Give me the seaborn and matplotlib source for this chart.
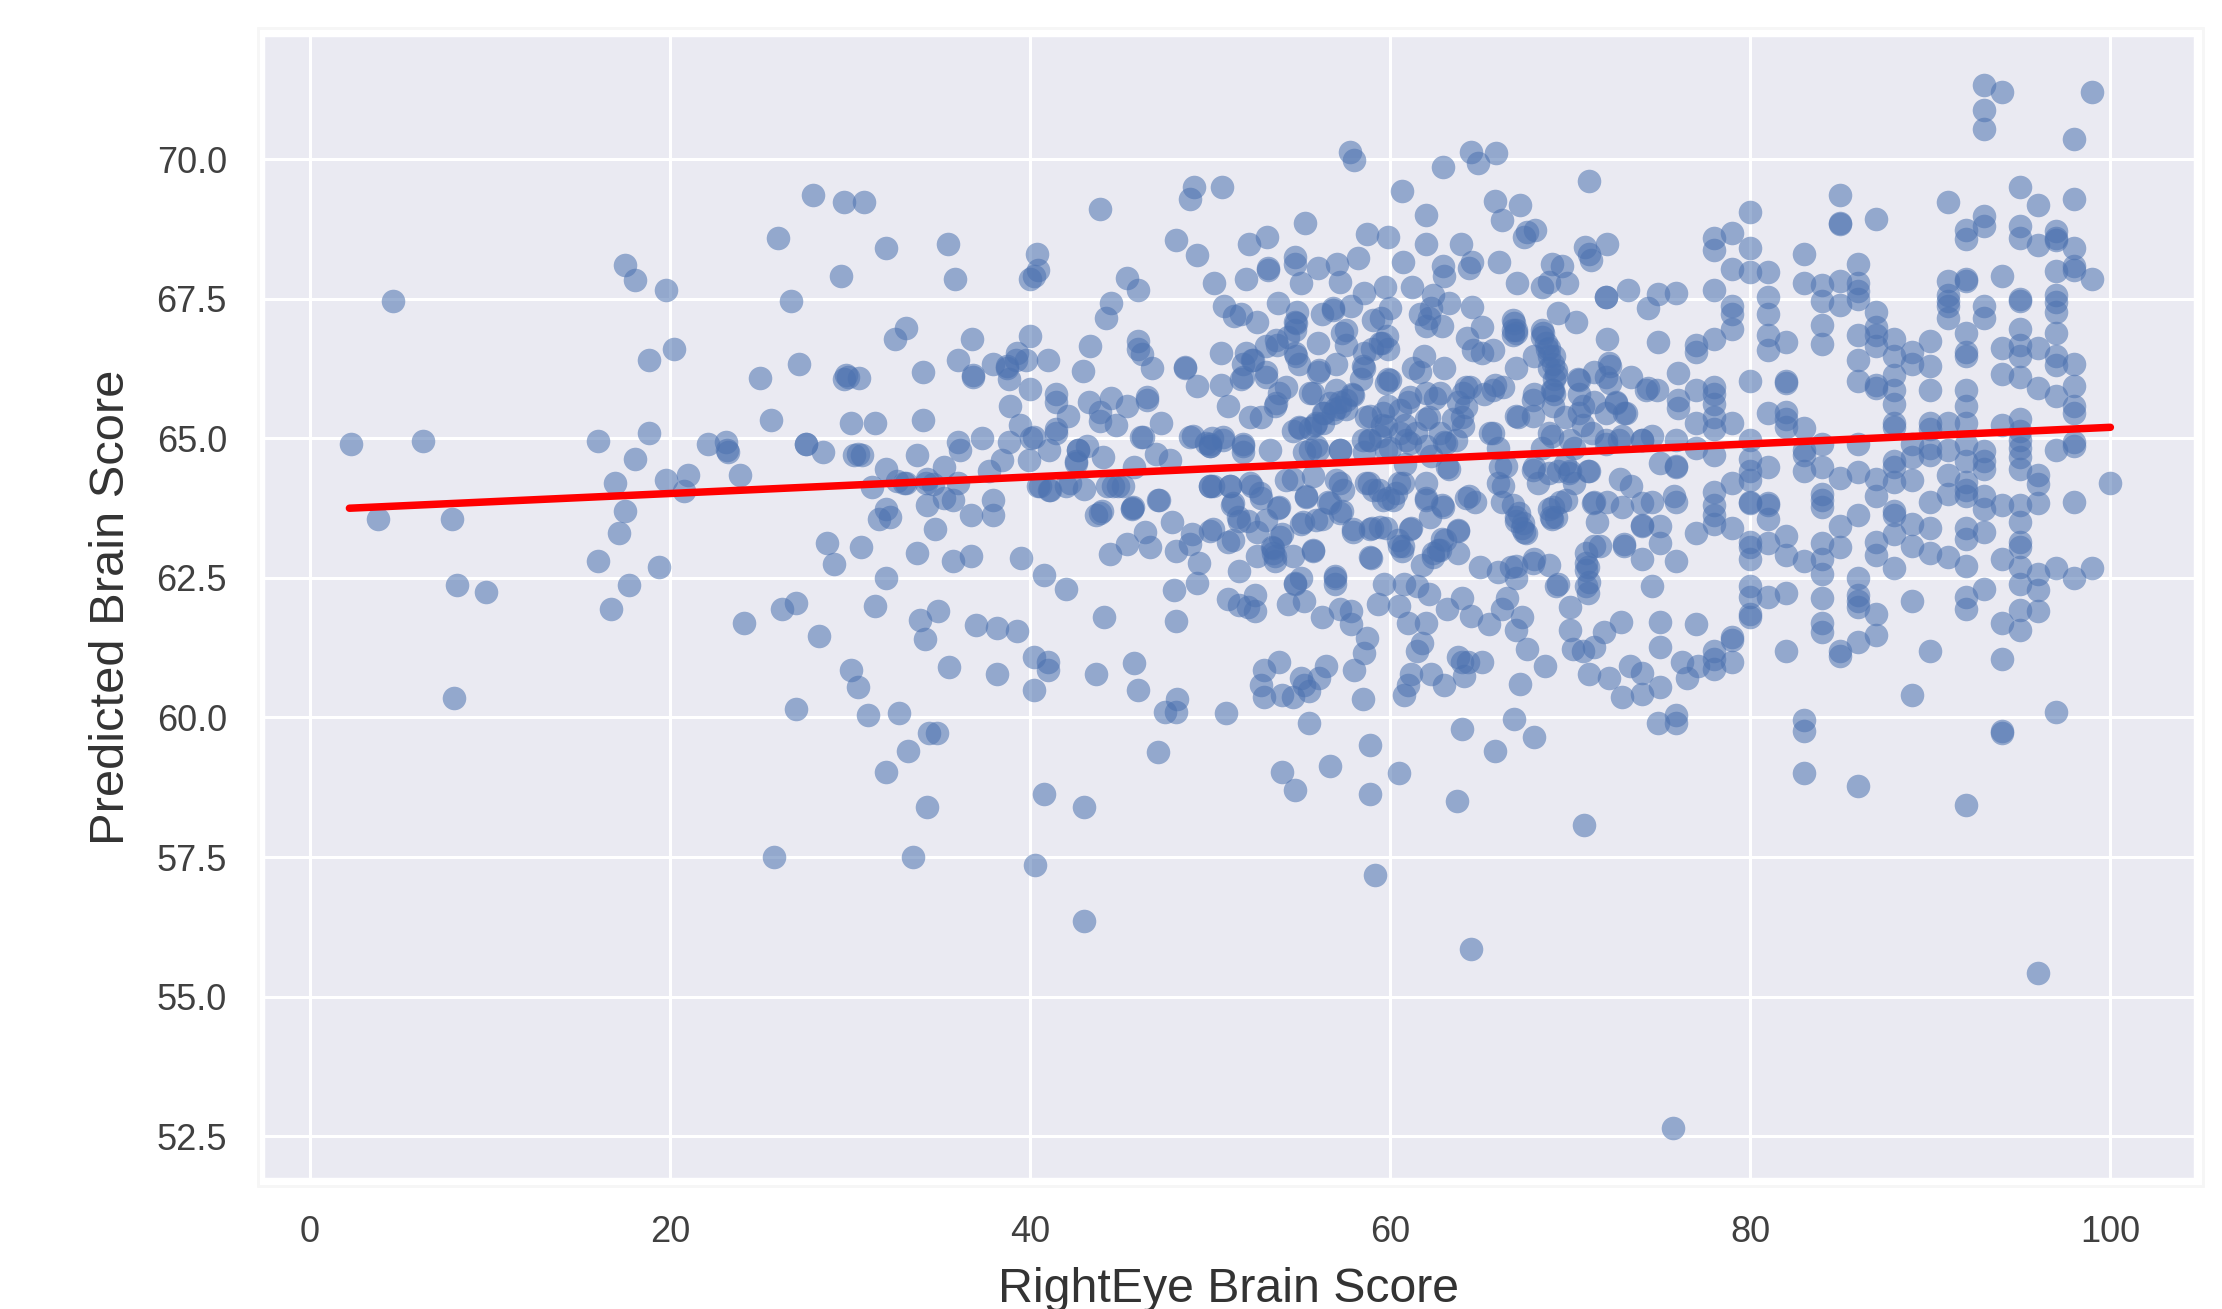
import matplotlib
matplotlib.use("Agg")
import matplotlib.pyplot as plt
import seaborn as sns
import pandas as pd
from matplotlib.patches import Rectangle

# values, left side of the cloud
x_low = [2.26, 4.6, 6.3, 3.8, 7.9, 8.2, 9.8, 8.0, 16.0, 18.86, 18.06, 16.95, 19.8, 21, 20.8, 17.5, 17.15, 16, 19.4, 17.7, 16.75,
         17.5, 18.06, 19.8, 20.2, 18.86, 22.1, 23.1, 23.15, 23.2, 23.9, 25.0, 27.15, 26.0, 26.75, 29.5, 27.94, 29.65, 30.8, 32.0,
         25.6, 27.55, 27.55, 28.5, 29.65, 29.8, 29.9, 30.5, 30.05, 31.4, 34.07, 34.07, 33.1, 32.5, 30.2, 30.47, 30.65, 33.7, 32, 31.2,
         32.6, 33.1, 34.2, 34.6, 34.3, 34.7, 32, 31.6, 32.2, 28.7, 30.6, 29.1, 33.7, 32, 31.4, 27, 26.2, 24.1, 33.9, 34.9,
         28.3, 30.05, 30.45, 31, 27, 32, 32.7, 33.2, 34.4, 34.85, 34.3, 33.5, 25.8, 34.15, 35.5, 35.7, 36.7, 37, 38.15, 39.3,
         38.15, 39.5]
y_low = [64.9, 67.47, 64.95, 63.56, 63.56, 62.38, 62.25, 60.35, 64.96, 65.09, 64.64, 64.2, 64.26, 64.34, 64.06, 63.7, 63.3, 62.8, 62.7, 62.38, 61.95,
         68.1, 67.84, 67.66, 66.6, 66.4, 64.9, 64.93, 64.8, 64.76, 64.34, 66.08, 66.34, 68.6, 67.47, 67.92, 69.37, 69.24, 69.24, 68.42,
         65.33, 64.9, 64.9, 64.76, 66.06, 66.13, 66.1, 66.08, 65.27, 65.27, 65.33, 66.2, 66.98, 66.78, 64.7, 64.73, 64.7, 64.7, 64.45, 64.13,
         64.23, 64.2, 64.2, 64.18, 63.8, 63.38, 63.73, 63.56, 63.6, 63.13, 63.06, 62.75, 62.94, 62.5, 61.99, 62.05, 61.95, 61.7, 61.75, 61.9,
         61.46, 60.85, 60.55, 60.04, 60.16, 59.02, 60.08, 59.4, 59.73, 59.72, 58.4, 57.5, 57.5, 61.4, 60.9, 62.8, 62.9, 61.66, 61.6, 61.55,
         60.78, 62.85]

# upper half of the middle
x_mid_top = [35.44, 35.81, 35.98, 36.78, 36.85, 36.85, 37.92, 38.71, 38.71, 39.25, 39.2, 40.02, 41, 39.8, 38.83, 40.02, 40.4, 40.45, 40.2, 40.02,
             43.9, 45.4, 46, 44.5, 44.24, 43.35, 42.92, 46, 46, 46.2, 46.77, 48.6, 48.6, 48.1, 49.3, 49.1, 48.9, 50.66, 50.24, 52,
             52.15, 53.16, 55.27, 54.7, 54.7, 53.2, 53.2, 55.07, 56, 57.05, 57.2, 58.2, 58.74, 59.9, 62, 60.67, 57.75, 58, 62.95, 64.5,
             64.9, 65.9, 62, 63.95, 60.7, 61.2, 59.73, 58.54, 62.95, 63, 64.57, 64.4, 66.05, 67.04, 65.85, 67.2, 66.23, 67.6, 68.03, 67.42,
             71.06, 70.8, 71.06, 71.13, 69, 69.57, 68.46, 68.83, 69.82, 50.8, 51.35, 51.72, 52.6, 53.76, 54.82, 54.7, 54.7, 56.2, 56.8, 56.8,
             57.8, 59.04, 60, 59.5, 61.64, 62.26, 62.13, 62.88, 63.25, 62, 62.4, 64.57, 65.1, 64.25, 66.85, 66.97, 66.85, 69.3, 70.3, 68.46,
             50.6, 52, 51.85, 52.35, 51.72, 53.1, 53.7, 53.1, 54.33, 54.7, 54.95, 56, 56.06, 56, 57, 57.3, 57.55, 58.54, 58.54, 58.4,
             59.53, 59.9, 59, 59.9, 61.27, 61.64, 61.9, 63, 64.6, 65.1, 65.73, 66.97, 68.46, 68.7, 68, 69.07, 69.2, 70.44, 71.3]
y_mid_top = [68.48, 67.85, 66.41, 66.78, 66.13, 66.1, 66.34, 66.3, 66.27, 66.54, 66.41, 66.84, 66.41, 66.41, 66.06, 65.89, 68.3, 68.02, 67.92, 67.85,
             69.12, 67.88, 67.66, 67.43, 67.15, 66.66, 66.21, 66.75, 66.61, 66.51, 66.27, 66.28, 66.27, 68.55, 68.29, 69.5, 69.3, 69.5, 67.79, 67.85,
             68.48, 68.61, 68.86, 68.26, 68.12, 68.05, 68.02, 67.78, 68.05, 68.12, 67.81, 68.24, 68.67, 68.61, 69, 69.44, 70.14, 69.99, 69.87, 70.14,
             69.94, 70.12, 68.48, 68.48, 68.17, 67.72, 67.72, 67.6, 68.09, 67.92, 68.16, 68.05, 68.17, 67.79, 69.25, 69.18, 68.91, 68.7, 68.74, 68.61,
             69.62, 68.43, 68.3, 68.19, 68.12, 68.09, 67.71, 67.81, 67.78, 67.37, 67.2, 67.23, 67.09, 67.42, 67.26, 67.09, 66.95, 67.23, 67.33, 67.3,
             67.37, 67.13, 67.33, 67.16, 67.23, 67.33, 67.16, 67.02, 67.43, 67.02, 67.57, 67.35, 66.99, 66.8, 67.13, 66.95, 66.85, 67.24, 67.09, 66.95,
             66.53, 66.54, 66.34, 66.41, 66.06, 66.2, 66.68, 66.65, 66.82, 66.54, 66.34, 66.71, 66.23, 66.2, 66.34, 66.89, 66.68, 66.54, 66.27, 66.06,
             66.71, 66.61, 66.61, 66.06, 66.27, 66.2, 66.47, 66.27, 66.58, 66.54, 66.58, 66.27, 66.82, 66.61, 66.47, 66.34, 66.13, 66.06, 66.2]

# band around the fit line
x_mid_line = [38.9, 41.44, 41.44, 42.13, 41.44, 39.45, 43.3, 44.5, 43.9, 45.4, 46.5, 46.5, 43.9, 44.8, 46.15, 47.26, 49.25, 50.6, 51, 52.2,
              52.84, 53.83, 53.6, 55.7, 54.95, 55.8, 56.3, 57.2, 57.55, 56.93, 57.9, 54.6, 58.66, 59.9, 59.78, 61, 62.5, 62.13, 60.8, 59.53,
              58.9, 64.24, 65.85, 63.75, 64, 65.23, 68, 67.09, 69, 70.7, 69.7, 69.07, 70.7, 71.3, 37.35, 36, 36.1, 35.24, 38.83, 38.46,
              40.07, 40.2, 41.07, 39.95, 37.72, 41.44, 42.68, 43.17, 42.55, 44.04, 45.8, 46.27, 47, 47.76, 48.87, 50, 50.1, 50.73, 51.85, 51.85,
              53.33, 55.2, 56, 57.2, 58.8, 58.54, 60, 60.9, 60.8, 63, 62.26, 63.13, 65.73, 66, 66.1, 68.46, 68, 70, 69.7, 71,
              70.2, 33, 34.25, 36, 35.73, 35.24, 36.73, 37.92, 37.92, 40.44, 41.07, 42, 43, 44.3, 44.9, 45.65, 47.14, 43.67,
              44, 47.9, 45.65, 50, 51.1, 52.34, 51.23, 51.6, 53.83, 52.84, 54.6, 55.3, 52.1, 57.2, 56.55, 57.3, 58.8, 59.4, 59.9, 60.5,
              62, 62.88, 64.24, 64.37, 64.73, 62, 63.25, 66, 66.23, 66.85, 66.97, 67.34, 67.46, 68.2, 69, 69.45, 70.2, 71.06, 71.3]
y_mid_line = [65.58, 65.79, 65.65, 65.41, 65.17, 65.24, 65.65, 65.72, 65.48, 65.58, 65.75, 65.69, 65.31, 65.24, 65.03, 65.27, 65.94, 65.96, 65.58, 65.39,
              65.39, 65.82, 65.58, 65.82, 65.2, 65.24, 65.45, 65.65, 65.52, 65.52, 65.79, 65.14, 65.38, 65.58, 66, 65.65, 65.72, 65.38, 65.24, 65.24,
              64.97, 65.93, 65.96, 65.65, 65.38, 65.79, 65.79, 65.38, 65.86, 65.58, 65.38, 65.58, 65.24, 65.65, 65, 64.93, 64.8, 64.49, 64.93, 64.62,
              65, 65.03, 64.8, 64.62, 64.42, 65.1, 64.8, 64.86, 64.59, 64.66, 64.49, 65.03, 64.73, 64.62, 65.03, 64.9, 65, 65.03, 64.9, 64.76,
              64.8, 64.76, 64.8, 64.8, 64.97, 64.76, 64.83, 64.97, 64.55, 64.93, 64.69, 64.49, 65.1, 64.83, 64.49, 64.83, 64.49, 64.97, 64.55, 64.42,
              64.83, 64.2, 64.28, 64.2, 63.9, 63.94, 63.63, 63.9, 63.63, 64.14, 64.07, 64.14, 64.1, 64.14, 64.14, 63.73, 63.9, 63.63,
              63.7, 63.5, 63.76, 64.14, 64.14, 64.14, 63.8, 63.53, 63.77, 63.94, 64.28, 63.97, 63.53, 64.21, 63.87, 63.7, 64.21, 64.07, 63.94, 64.21,
              63.94, 63.8, 63.94, 63.97, 63.87, 64.21, 64.45, 64.21, 63.87, 63.8, 63.53, 63.39, 63.32, 64.21, 63.56, 63.87, 64.21, 64.42, 63.87]

# lower half of the middle
x_mid_low = [40.8, 42, 44.46, 45.4, 46.4, 46.65, 48.1, 49, 48.87, 49.37, 50, 51, 51.6, 52.6, 53.46, 53.6,
             53.6, 54, 55.7, 54.6, 55.07, 56.2, 52.6, 57.92, 58.9, 59, 59.78, 60.5, 60.65, 61.14, 62.4, 62.63, 62.88, 63.75, 61.76, 63.75,
             65, 66, 66.7, 68, 68.83, 71, 71.06, 71.3, 67, 44.1, 48.1, 48, 49.3, 51, 51.6, 52.5, 52.5, 52.1, 54.3, 54.7,
             55.2, 55.07, 56.2, 56.93, 56.93, 57.2, 57.8, 57.8, 58.74, 58.54, 58, 59.65, 59.3, 60.77, 61.5, 60.5, 61, 62.13, 62, 63.13,
             64, 64.5, 65.5, 61.76, 61.5, 61.14, 61, 60.77, 62.26, 66.47, 66.23, 67.34, 67, 67.6, 68.6, 67.2, 70, 70, 70.14, 71.3,
             71.06, 63.75, 64, 65.1, 64.1, 63, 40.2, 41, 41, 40.2, 43.67, 45.8, 46, 53, 52.84, 53.83, 55.07, 55.2,
             56.06, 56.44, 53, 54.6, 47.5, 48.1, 48.15, 50.9, 47.1, 40.8, 43, 40.3, 43, 54, 55.47, 55.47, 54, 54.7, 56.65, 58.9,
             58.9, 60.5, 59.15, 58.5, 64, 63.7, 65.85, 66.9, 68, 64.5, 70.75, 75.7, 64.3]
y_mid_low = [62.55, 62.3, 62.93, 63.1, 63.32, 63.05, 62.98, 63.29, 63.1, 62.77, 63.35, 63.15, 62.63, 63.32, 63.05, 62.9,
             62.8, 63.29, 62.99, 62.9, 63.46, 63.56, 62.9, 63.32, 62.87, 63.39, 63.39, 63.08, 62.98, 63.39, 62.87, 63, 63.2, 63.35, 62.74, 62.94,
             62.7, 62.6, 62.7, 62.84, 62.74, 62.7, 62.43, 63.08, 62.5, 61.8, 61.73, 62.29, 62.41, 62.12, 62.02, 62.19, 61.91, 61.98, 62.03, 62.39,
             62.09, 62.5, 61.8, 62.39, 62.53, 61.95, 61.67, 61.91, 61.43, 61.16, 60.85, 62.39, 62.03, 62.39, 62.36, 62, 61.7, 62.22, 61.7, 61.95,
             62.15, 61.81, 61.67, 61.33, 61.2, 60.78, 60.58, 60.4, 60.78, 62.15, 61.95, 61.8, 61.57, 61.23, 60.92, 60.6, 61.98, 61.57, 61.23, 61.26,
             60.78, 61.09, 61, 61, 60.75, 60.58, 61.09, 61, 60.85, 60.5, 60.78, 60.97, 60.5, 60.85, 60.58, 60.99, 60.71, 60.58,
             60.71, 60.93, 60.37, 60.37, 60.1, 60.1, 60.34, 60.08, 59.38, 58.63, 58.4, 57.36, 56.35, 60.4, 60.47, 59.9, 59.02, 58.7, 59.13, 59.5,
             58.63, 59, 57.17, 60.34, 59.8, 58.5, 59.4, 59.98, 59.65, 55.85, 58.08, 52.65, 61]

# 69-77 stretch right of the dense core
x_mid_right = [72.07, 72.06, 74.9, 72, 72, 73.2, 74.3, 74.9, 75.9, 77, 77,
               76, 76, 76, 77, 74.8, 74.3, 73.4, 72.2, 72.2, 70.5, 69.1, 69.1, 72, 72.54, 73, 71.2, 68.85,
               68.85, 69.1, 69, 72, 72.9, 74.56, 75.9, 74, 77, 77, 69.33, 70, 68.85, 69.2, 72.06, 72.9, 74,
               74.56, 72.78, 73.4, 75, 75.87, 75.75, 75.87, 74, 75, 71.47, 73, 71.66, 74, 75.87, 75, 70.87, 71, 74.56,
               69.33, 72.8, 71.85, 75, 77, 75, 70.7, 72.15, 72.9, 73.3, 74, 74, 75,
               74.9, 75.9, 75.9, 76.5, 77.1, 77, 76.2]
y_mid_right = [68.48, 66.78, 66.72, 67.53, 67.54, 67.66, 67.34, 67.58, 67.6, 66.68, 66.55,
               66.17, 65.69, 65.55, 65.86, 65.86, 65.9, 66.1, 66.3, 66, 65.8, 66.07, 65.8, 65.45, 65.66, 65.45, 65.1, 66.62,
               66.27, 66.48, 65.04, 64.9, 65.04, 65.04, 64.97, 64.97, 65.28, 64.83, 64.42, 64.42, 63.74, 63.6, 63.87, 63.77, 63.84,
               63.87, 64.28, 64.15, 64.56, 64.49, 63.97, 63.87, 63.43, 63.43, 63.5, 63.08, 63.08, 62.84, 62.8, 63.12, 62.64, 62.23, 62.36,
               62.4, 61.71, 61.54, 61.71, 61.68, 61.26, 61.2, 60.7, 60.37, 60.93, 60.42, 60.8, 60.55,
               59.9, 59.9, 60.04, 60.7, 60.93, 63.31, 61.0]

x_core = [57.19, 56.64, 57.56, 57.93, 57, 56.27, 55.9, 54.97, 55.53, 56.27, 56.82, 54.23, 53.68, 53.12, 51.83, 52.38, 53.68, 54.79, 54.79, 57.56,
          59.41, 59.8, 58.49, 59.97, 55.53, 58.86, 59.6, 60.52, 61.08, 62, 62.75, 62, 62.75, 61.45, 60.52, 59.41, 58.49, 59.78, 61.08, 62,
          63.12, 63.67, 64.04, 64.23, 64.04, 64.41, 65.71, 65.52, 63.49, 49.98, 50.72, 51.83, 55.53, 55.9, 57.19, 59.78, 49.98, 51.09, 52.2, 54.23,
          55.71, 57, 57.38, 58.67, 59.04, 59.6, 60.15, 60.34, 60.71, 62, 56.64, 55.34, 53.77, 51.27, 51.55, 52.75, 53.12, 55.16, 55.9, 57.19,
          57.93, 58.86, 59.41, 60.43, 60.71, 61.08, 62.19, 62.93, 63.76, 62.37, 62.75, 63.02, 53.49, 53.49, 50.16, 51.27, 53.86, 55.71, 54.7, 56.92,
          58.95, 66.81, 67, 66.9, 68.48, 68.66, 68.85, 69.22, 70.51, 67, 67.92, 68.85, 66.25, 69.03, 67.92, 70.51, 72.18, 72, 74.2, 72.55,
          73.1, 72, 72.73, 74, 66.44, 67.92, 68.85, 69.96, 66.25, 67.18, 67.37, 67.55, 67, 68.94, 69.03, 69.77, 71.25, 74, 75.88, 73,
          70.88, 70.88, 70.88, 67, 67.92, 69.22, 42.66, 42.57, 42.2, 41.09, 40.53, 44.6, 45.16, 45.71, 47.1, 43.86, 49.97, 49.78, 50.16, 49.04]
y_core = [65.57, 65.63, 65.69, 65.78, 65.87, 65.45, 65.28, 65.19, 65.19, 65.28, 65.45, 65.93, 65.63, 66.11, 66.11, 66.41, 66.77, 67.07, 66.47, 66.95,
          66.71, 66.83, 66.29, 66.05, 65.81, 65.4, 65.45, 65.51, 65.75, 65.81, 65.81, 65.34, 65.1, 65.1, 65.1, 65.04, 64.98, 65.22, 64.92, 64.86,
          64.92, 64.98, 65.22, 65.57, 65.81, 65.93, 65.87, 65.1, 65.34, 64.86, 64.98, 64.86, 64.8, 64.86, 64.8, 64.8, 64.14, 64.14, 64.2, 64.26,
          64.32, 64.26, 64.08, 64.2, 64.08, 63.9, 63.9, 64.02, 64.2, 63.9, 63.84, 63.96, 63.75, 63.84, 63.6, 64.02, 63.54, 63.51, 63.54, 63.66,
          63.37, 63.37, 63.42, 63.18, 63.07, 63.37, 63.6, 63.78, 63.36, 62.95, 63.01, 63.18, 62.95, 63.04, 63.37, 63.18, 63.24, 63.01, 62.41, 62.5,
          62.86, 66.95, 66.89, 67.07, 66.89, 66.71, 66.47, 66.23, 66.05, 65.4, 65.4, 65.1, 65.93, 65.87, 65.69, 65.45, 66.35, 66.11, 65.87, 65.63,
          65.45, 64.98, 64.98, 64.98, 64.5, 64.44, 64.38, 64.38, 64.14, 63.66, 63.48, 63.3, 63.6, 63.6, 63.78, 63.9, 63.84, 63.45, 64.5, 63.1,
          62.77, 62.95, 62.35, 62.71, 62.77, 62.35, 64.8, 64.56, 64.2, 64.08, 64.14, 64.14, 64.14, 63.78, 63.9, 63.66, 64.86, 64.92, 64.14, 65.04]

# right side scores are whole numbers, so one list per score
y_at_78 = [68.6, 68.37, 67.66, 66.79, 65.93, 65.79, 65.62, 65.38, 65.17, 64.7, 64.04, 63.8, 63.63, 63.46, 61.2, 61.05, 60.87]
y_at_79 = [68.69, 68.04, 67.37, 67.23, 66.96, 65.28, 64.2, 63.39, 61.44, 61.38, 61.0]
y_at_80 = [69.05, 68.41, 67.99, 66.03, 64.97, 64.63, 64.42, 64.25, 63.87, 63.84, 63.15, 63.05, 62.84, 62.36, 62.16, 61.85, 61.8]
y_at_81 = [67.99, 67.54, 67.23, 66.86, 66.58, 65.45, 64.49, 63.84, 63.8, 63.56, 63.12, 62.16]
y_at_82 = [66.72, 66.03, 66, 65.48, 65.35, 65.2, 63.25, 62.91, 62.23, 61.2]
y_at_83 = [68.3, 67.78, 65.18, 64.8, 64.7, 64.42, 62.81, 59.96, 59.76, 59]
y_at_84 = [67.75, 67.47, 67.03, 66.7, 64.9, 64.49, 64, 63.9, 63.77, 63.12, 62.84, 62.57, 61.54, 62.15, 61.7]
y_at_85 = [69.36, 68.86, 68.84, 67.82, 67.4, 64.3, 63.43, 63.05, 61.2, 61.1]
y_at_86 = [68.12, 67.78, 67.65, 67.5, 66.85, 66.41, 66.03, 64.9, 64.4, 63.63, 62.5, 62.09, 61.98, 58.77, 61.35, 62.2]
y_at_87 = [68.93, 67.27, 67, 66.85, 66.65, 65.96, 65.9, 64.28, 63.97, 63.15, 62.91, 61.85, 61.47]
y_at_88 = [66.79, 66.48, 66.14, 65.86, 65.62, 65.27, 65.2, 64.59, 64.49, 64.22, 63.7, 63.63, 63.29, 62.67]
y_at_89 = [66.55, 66.34, 64.9, 64.66, 64.25, 63.46, 63.08, 62.09, 60.4]
y_at_90 = [66.75, 66.3, 65.86, 65.28, 65.17, 64.83, 64.7, 63.87, 63.4, 62.95, 61.2]
y_at_91 = [69.24, 67.82, 67.57, 67.47, 67.37, 67.16, 65.28, 64.8, 64.35, 64, 62.87]
y_at_92 = [68.74, 68.57, 67.82, 67.85, 66.89, 66.55, 66.48, 65.86, 65.59, 65.28, 64.9, 64.6, 64.22, 64.08, 63.97, 63.4, 63.19, 62.71,
           62.16, 61.95, 58.44]
y_at_93 = [71.33, 70.88, 70.55, 68.98, 68.81, 67.37, 67.16, 64.77, 64.6, 64.46, 63.97, 63.74, 63.32, 62.3]
y_at_94 = [71.21, 67.92, 66.62, 66.15, 65.25, 63.8, 62.84, 61.7, 61.05, 59.73, 59.76]
y_at_95 = [69.5, 68.8, 68.6, 67.5, 67.47, 66.96, 66.68, 66.48, 66.1, 65.35, 65.14, 64.97, 64.83, 64.66, 64.46, 63.8, 63.5, 63.15, 63.05,
           62.7, 62.4, 61.92, 61.56]
y_at_96 = [69.19, 68.47, 66.62, 65.9, 64.35, 64.18, 63.84, 62.57, 62.29, 61.9, 55.42]
y_at_97 = [68.71, 68.6, 68.56, 68, 67.57, 67.44, 67.27, 66.89, 66.48, 66.31, 65.76, 64.8, 62.67, 60.1]
y_at_98 = [70.37, 69.3, 68.42, 68.09, 68.02, 66.34, 65.94, 65.59, 65.45, 64.93, 64.86, 63.87, 62.5]
y_at_99 = [71.2, 67.85, 62.67]
y_at_100 = [64.2]

# fit line ends
fit_x = [2.2, 100]
fit_y = [63.75, 65.2]

x_ticks = [0, 20, 40, 60, 80, 100]
y_ticks = [52.5, 55.0, 57.5, 60.0, 62.5, 65.0, 67.5, 70.0]

columns = {78: y_at_78, 79: y_at_79, 80: y_at_80, 81: y_at_81, 82: y_at_82, 83: y_at_83, 84: y_at_84, 85: y_at_85,
           86: y_at_86, 87: y_at_87, 88: y_at_88, 89: y_at_89, 90: y_at_90, 91: y_at_91, 92: y_at_92, 93: y_at_93,
           94: y_at_94, 95: y_at_95, 96: y_at_96, 97: y_at_97, 98: y_at_98, 99: y_at_99, 100: y_at_100}

parts = [pd.DataFrame({"right": x_low, "pred": y_low}),
         pd.DataFrame({"right": x_mid_top, "pred": y_mid_top}),
         pd.DataFrame({"right": x_mid_line, "pred": y_mid_line}),
         pd.DataFrame({"right": x_mid_low, "pred": y_mid_low}),
         pd.DataFrame({"right": x_mid_right, "pred": y_mid_right}),
         pd.DataFrame({"right": x_core, "pred": y_core})]
for score, vals in columns.items():
    parts.append(pd.DataFrame({"right": [score] * len(vals), "pred": vals}))
df = pd.concat(parts, ignore_index=True)

sns.set_theme(style="darkgrid")
plt.rcParams["font.family"] = ["Liberation Sans", "DejaVu Sans"]

W, H = 2222, 1309
fig = plt.figure(figsize=(W / 200, H / 200), dpi=200)
ax = fig.add_axes([263 / W, 1 - 1179 / H, (2195 - 263) / W, (1179 - 35) / H])

# faint frame the original has around the axes
fig.add_artist(Rectangle((258 / W, 1 - 1186 / H), (2203 - 258) / W, (1186 - 28) / H, transform=fig.transFigure,
                         fill=False, ec="#f6f6f6", lw=1))

sns.scatterplot(data=df, x="right", y="pred", color="#4C72B0", alpha=0.55, s=72, linewidth=0, ax=ax)
sns.lineplot(x=fit_x, y=fit_y, color="red", lw=2.7, ax=ax, errorbar=None)

ax.set_xlim(-2.6, 104.7)
ax.set_ylim(51.73, 72.23)
ax.set_xticks(x_ticks)
ax.set_yticks(y_ticks)
ax.set_yticklabels([f"{v:.1f}" for v in y_ticks])
ax.tick_params(labelsize=13, pad=7, labelcolor=".25")
ax.grid(True, color="white", lw=1.1)
ax.set_xlabel("RightEye Brain Score", fontsize=17.4, labelpad=6, color=".2")
ax.set_ylabel("Predicted Brain Score", fontsize=17.6, labelpad=8, color=".2")

fig.savefig("out.png", dpi=200)
